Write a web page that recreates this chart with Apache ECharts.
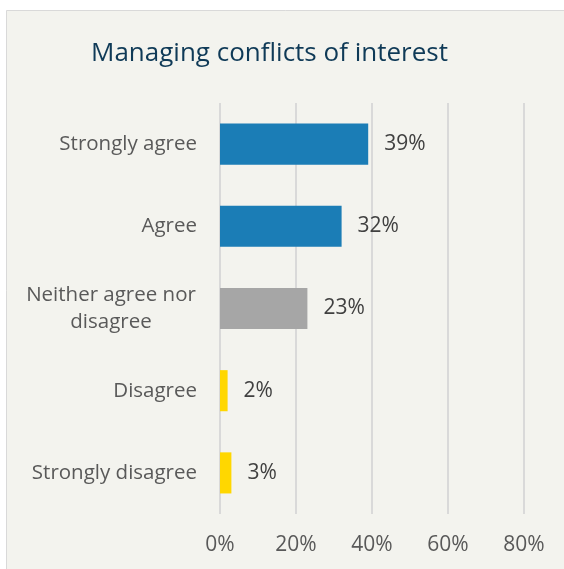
<!DOCTYPE html>
<html>
<head>
<meta charset="utf-8">
<script src="https://cdn.jsdelivr.net/npm/echarts@6/dist/echarts.min.js"></script>
<style>
  html, body { margin: 0; padding: 0; background: #ffffff; }
  #chart { width: 564px; height: 569px; }
</style>
</head>
<body>
<div id="chart"></div>
<script>
// Survey responses, listed top to bottom
const categories = ['Strongly agree', 'Agree', 'Neither agree nor\ndisagree', 'Disagree', 'Strongly disagree'];
const shares = [39, 32, 23, 2, 3];
const barColors = ['#1b7db6', '#1b7db6', '#a6a6a6', '#ffd700', '#ffd700'];
const xTicks = [0, 20, 40, 60, 80];

const FONT = 'Open Sans';
const CAT_SIZE = 20.5;
const NUM_SIZE = 21;
const chart = echarts.init(document.getElementById('chart'), null, { renderer: 'canvas' });

chart.setOption({
  backgroundColor: '#ffffff',
  animation: false,
  graphic: [{
    type: 'rect',
    shape: { x: 6.5, y: 10.5, width: 570, height: 570 },
    style: { fill: '#f3f3ee', stroke: '#d9d9d9', lineWidth: 1 },
    z: -10
  }],
  title: {
    text: 'Managing conflicts of interest',
    left: 86,
    top: 36,
    textStyle: { fontFamily: FONT, fontSize: 26, fontWeight: 'normal', color: '#0f3a57' }
  },
  grid: { left: 220, right: 40, top: 103, bottom: 55, containLabel: false },
  xAxis: {
    type: 'value',
    min: xTicks[0],
    max: xTicks[xTicks.length - 1],
    interval: 20,
    axisLine: { show: false },
    axisTick: { show: false },
    splitLine: { show: true, lineStyle: { color: '#d9d9d9', width: 2 } },
    axisLabel: {
      formatter: v => v + '%',
      margin: 21,
      fontFamily: FONT, fontSize: NUM_SIZE, color: '#595959'
    }
  },
  yAxis: {
    type: 'category',
    data: categories,
    inverse: true,
    axisLine: { show: false },
    axisTick: { show: false },
    axisLabel: {
      margin: 23,
      fontFamily: FONT, fontSize: CAT_SIZE, color: '#595959', lineHeight: 27,
      // multi-line labels are centred line by line inside a right-aligned block
      formatter: v => v.indexOf('\n') >= 0 ? '{m|' + v.split('\n').join('}\n{m|') + '}' : v,
      rich: {
        m: { fontFamily: FONT, fontSize: CAT_SIZE, color: '#595959', width: 172, align: 'center', lineHeight: 27 }
      }
    }
  },
  series: [{
    type: 'bar',
    barWidth: '50%',
    data: shares.map((v, i) => ({ value: v, itemStyle: { color: barColors[i] } })),
    label: {
      show: true,
      position: 'right',
      distance: 16,
      formatter: p => p.value + '%',
      fontFamily: FONT, fontSize: NUM_SIZE, color: '#404040'
    }
  }]
});
</script>
</body>
</html>
